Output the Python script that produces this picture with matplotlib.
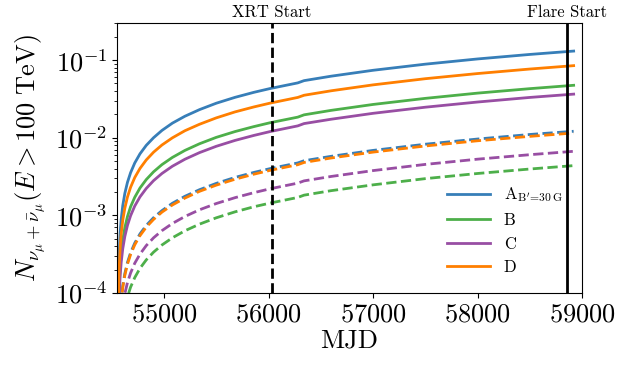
import numpy as np
import matplotlib
matplotlib.use('Agg')
import matplotlib.pyplot as plt

plt.rcParams.update({'font.family': 'serif', 'font.serif': ['cmr10'],
                     'mathtext.fontset': 'cm', 'axes.formatter.use_mathtext': True,
                     'font.size': 19})

# %% data

mjd = [54563, 54565, 54568, 54572, 54580, 54590, 54605, 54625, 54650, 54680, 54720, 54770,
       54830, 54900, 54980, 55080, 55200, 55340, 55500, 55680, 55860, 56016, 56280, 56340,
       56600, 57000, 57500, 58000, 58500, 58920]

A_solid = [8.86e-5, 1.47e-4, 2.36e-4, 3.54e-4, 5.91e-4, 8.86e-4, 1.33e-3, 1.92e-3,
           2.66e-3, 3.54e-3, 4.73e-3, 6.20e-3, 7.97e-3, 1.00e-2, 1.24e-2, 1.54e-2, 1.89e-2,
           2.30e-2, 2.78e-2, 3.31e-2, 3.84e-2, 4.30e-2,
           5.08e-2, 5.43e-2, 6.20e-2, 7.38e-2, 8.85e-2, 0.1033, 0.1181, 0.1305]
B_solid = [3.21e-5, 5.35e-5, 8.56e-5, 1.29e-4, 2.14e-4, 3.21e-4, 4.82e-4, 6.96e-4,
           9.64e-4, 1.29e-3, 1.71e-3, 2.25e-3, 2.89e-3, 3.64e-3, 4.50e-3, 5.57e-3, 6.86e-3,
           8.36e-3, 1.01e-2, 1.20e-2, 1.39e-2, 1.56e-2,
           1.84e-2, 1.97e-2, 2.25e-2, 2.68e-2, 3.21e-2, 3.75e-2, 4.28e-2, 4.73e-2]
C_solid = [2.47e-5, 4.12e-5, 6.59e-5, 9.89e-5, 1.65e-4, 2.47e-4, 3.71e-4, 5.35e-4,
           7.42e-4, 9.89e-4, 1.32e-3, 1.73e-3, 2.22e-3, 2.80e-3, 3.46e-3, 4.29e-3, 5.28e-3,
           6.43e-3, 7.75e-3, 9.23e-3, 1.07e-2, 1.20e-2,
           1.42e-2, 1.52e-2, 1.73e-2, 2.06e-2, 2.47e-2, 2.88e-2, 3.30e-2, 3.64e-2]
D_solid = [5.75e-5, 9.57e-5, 1.53e-4, 2.30e-4, 3.83e-4, 5.75e-4, 8.62e-4, 1.24e-3,
           1.72e-3, 2.30e-3, 3.07e-3, 4.02e-3, 5.17e-3, 6.51e-3, 8.05e-3, 9.96e-3, 1.23e-2,
           1.49e-2, 1.80e-2, 2.15e-2, 2.49e-2, 2.79e-2,
           3.30e-2, 3.52e-2, 4.02e-2, 4.79e-2, 5.75e-2, 6.70e-2, 7.66e-2, 8.47e-2]

A_dash = [8.24e-6, 1.37e-5, 2.20e-5, 3.30e-5, 5.50e-5, 8.24e-5, 1.24e-4, 1.78e-4,
          2.47e-4, 3.30e-4, 4.40e-4, 5.77e-4, 7.42e-4, 9.34e-4, 1.15e-3, 1.43e-3, 1.76e-3,
          2.14e-3, 2.58e-3, 3.08e-3, 3.57e-3, 4.00e-3,
          4.73e-3, 5.05e-3, 5.76e-3, 6.86e-3, 8.24e-3, 9.61e-3, 1.10e-2, 1.21e-2]
B_dash = [2.97e-6, 4.94e-6, 7.91e-6, 1.19e-5, 1.98e-5, 2.97e-5, 4.45e-5, 6.42e-5,
          8.90e-5, 1.19e-4, 1.58e-4, 2.08e-4, 2.67e-4, 3.36e-4, 4.15e-4, 5.14e-4, 6.33e-4,
          7.71e-4, 9.30e-4, 1.11e-3, 1.29e-3, 1.44e-3,
          1.70e-3, 1.82e-3, 2.08e-3, 2.47e-3, 2.97e-3, 3.46e-3, 3.95e-3, 4.37e-3]
C_dash = [4.53e-6, 7.55e-6, 1.21e-5, 1.81e-5, 3.02e-5, 4.53e-5, 6.80e-5, 9.81e-5,
          1.36e-4, 1.81e-4, 2.42e-4, 3.17e-4, 4.08e-4, 5.14e-4, 6.35e-4, 7.86e-4, 9.67e-4,
          1.18e-3, 1.42e-3, 1.69e-3, 1.96e-3, 2.20e-3,
          2.60e-3, 2.78e-3, 3.17e-3, 3.77e-3, 4.53e-3, 5.29e-3, 6.04e-3, 6.68e-3]
D_dash = [7.83e-6, 1.30e-5, 2.09e-5, 3.13e-5, 5.22e-5, 7.83e-5, 1.17e-4, 1.69e-4,
          2.35e-4, 3.13e-4, 4.18e-4, 5.48e-4, 7.05e-4, 8.87e-4, 1.10e-3, 1.36e-3, 1.67e-3,
          2.04e-3, 2.45e-3, 2.92e-3, 3.39e-3, 3.80e-3,
          4.49e-3, 4.80e-3, 5.48e-3, 6.52e-3, 7.82e-3, 9.13e-3, 1.04e-2, 1.15e-2]

labels = [r'$\mathrm{A}_{\mathrm{B^{\prime}\!=\!30\,G}}$', 'B', 'C', 'D']
colors = ['#377eb8', '#4daf4a', '#984ea3', '#ff7f00']

xrt_start = 56032
flare_start = 58860

# %% plot

fig = plt.figure(figsize=(6.18, 3.65), dpi=100)
ax = fig.add_axes([117/618, 72/365, 465/618, 270/365])

for y, c, lab in zip([A_solid, B_solid, C_solid, D_solid], colors, labels):
    ax.plot(mjd, y, color=c, lw=2, label=lab)
for y, c in zip([A_dash, B_dash, C_dash, D_dash], colors):
    ax.plot(mjd, y, color=c, lw=2, ls='--')

ax.axvline(xrt_start, color='k', ls='--', lw=2)
ax.axvline(flare_start, color='k', ls='-', lw=2)

trans = ax.get_xaxis_transform()
ax.text(xrt_start, 1.01, 'XRT Start', transform=trans, ha='center', va='bottom', fontsize=12)
ax.text(flare_start, 1.01, 'Flare Start', transform=trans, ha='center', va='bottom', fontsize=12)

ax.set_yscale('log')
ax.set_xlim(54550, 59000)
ax.set_ylim(1e-4, 0.3)
ax.set_xticks([55000, 56000, 57000, 58000, 59000])
ax.set_xlabel('MJD', labelpad=2)
ax.set_ylabel(r'$N_{\nu_\mu+\bar{\nu}_\mu}(E>100\ \mathrm{TeV})$', labelpad=4)

ax.legend(loc='lower right', frameon=False, fontsize=12, handlelength=2.6,
          bbox_to_anchor=(0.99, 0.01), labelspacing=0.5)

plt.savefig('out.png')
